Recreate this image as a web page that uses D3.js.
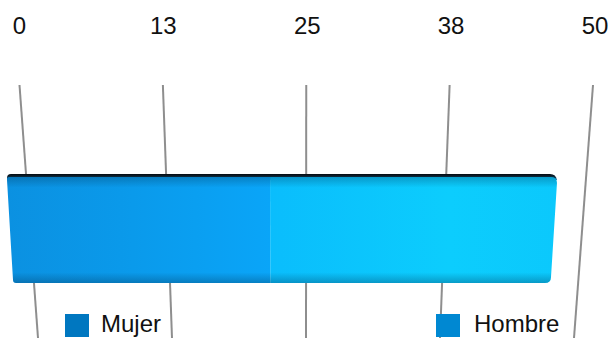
<!DOCTYPE html>
<html>
<head>
<meta charset="utf-8">
<script src="https://cdn.jsdelivr.net/npm/d3@7/dist/d3.min.js"></script>
<style>
  html, body { margin: 0; padding: 0; background: #fff; }
  svg { display: block; font-family: "Liberation Sans", Arial, sans-serif; }
</style>
</head>
<body>
<svg id="chart" width="608" height="338"></svg>
<script>
// Chart data
const categories = ["Total"];
const series = ["Mujer", "Hombre"];
const values = [22, 24];
const tickValues = [0, 12.5, 25, 37.5, 50];
const tickLabels = ["0", "13", "25", "38", "50"];
const legendColors = ["#0077c0", "#0088d2"];

const svg = d3.select("#chart");
const W = 608, H = 338;
const domain = [0, 50];

// Perspective: the grid plane is narrower at its bottom edge than at its top edge,
// the bar sits in front of it and is magnified a little.
const gridTopY = 85, gridBotY = H;
const gridTop = d3.scaleLinear().domain(domain).range([19.5, 593]);
const gridBot = d3.scaleLinear().domain(domain).range([38, 574]);
const labelX = d3.scaleLinear().domain(domain).range([19.5, 595]);

const barTopY = 177, barBotY = 283;
const barTop = d3.scaleLinear().domain(domain).range([7, 604.8]);
const barBot = d3.scaleLinear().domain(domain).range([13, 597.8]);

const defs = svg.append("defs");

function hGrad(id, stops) {
  const g = defs.append("linearGradient").attr("id", id)
    .attr("x1", "0").attr("y1", "0").attr("x2", "1").attr("y2", "0");
  stops.forEach(s => g.append("stop").attr("offset", s[0]).attr("stop-color", s[1]));
}
function vGrad(id, stops) {
  const g = defs.append("linearGradient").attr("id", id)
    .attr("x1", "0").attr("y1", "0").attr("x2", "0").attr("y2", "1");
  stops.forEach(s => {
    const st = g.append("stop").attr("offset", s[0]).attr("stop-color", s[1]);
    if (s[2] !== undefined) st.attr("stop-opacity", s[2]);
  });
}
hGrad("fill-Mujer", [[0, "#0b90e0"], [0.5, "#0a9aeb"], [1, "#0aa5f8"]]);
hGrad("fill-Hombre", [[0, "#0abdfc"], [0.6, "#0ccdfd"], [1, "#0bc8fc"]]);
vGrad("shade", [[0, "#00304f", 0.3], [0.1, "#003050", 0.0], [0.9, "#002a48", 0.0], [1, "#002a48", 0.3]]);
vGrad("topface", [[0, "#05090d"], [0.5, "#0b2b40"], [1, "#0b6fa8"]]);

// Grid lines
svg.append("g").selectAll("line")
  .data(tickValues)
  .join("line")
  .attr("x1", d => gridTop(d)).attr("y1", gridTopY)
  .attr("x2", d => gridBot(d)).attr("y2", gridBotY)
  .attr("stroke", "#8e8e8e").attr("stroke-width", 2);

// Tick labels
svg.append("g").selectAll("text")
  .data(tickValues)
  .join("text")
  .attr("x", d => labelX(d)).attr("y", 34)
  .attr("text-anchor", "middle")
  .attr("font-size", 24)
  .attr("fill", "#111")
  .text((d, i) => tickLabels[i]);

// Stacked segments
let acc = 0;
const segs = values.map((v, i) => {
  const s = { name: series[i], x0: acc, x1: acc + v };
  acc += v;
  return s;
});
const total = acc;

// Outline of the whole bar with rounded ends, used as clip
const L0 = barTop(0), L1 = barBot(0), R0 = barTop(total), R1 = barBot(total);
const r = 6;
const outline = d3.path();
outline.moveTo(L0 + 3, barTopY);
outline.lineTo(R0 - r, barTopY);
outline.quadraticCurveTo(R0, barTopY, R0, barTopY + r);
outline.lineTo(R1, barBotY - r);
outline.quadraticCurveTo(R1, barBotY, R1 - r, barBotY);
outline.lineTo(L1 + 3, barBotY);
outline.quadraticCurveTo(L1, barBotY, L1, barBotY - 3);
outline.lineTo(L0, barTopY + 3);
outline.quadraticCurveTo(L0, barTopY, L0 + 3, barTopY);
outline.closePath();

defs.append("clipPath").attr("id", "barclip")
  .append("path").attr("d", outline.toString());

const bar = svg.append("g").datum(categories[0]);

// Dark top face
const tf = d3.path();
const tY = barTopY - 3;
tf.moveTo(barTop(0), barTopY + 3);
tf.lineTo(barTop(0), tY + 4);
tf.quadraticCurveTo(barTop(0), tY, barTop(0) + 4, tY);
tf.lineTo(barTop(total) - 7, tY);
tf.quadraticCurveTo(barTop(total) - 1, tY, barTop(total), tY + 6);
tf.lineTo(barTop(total), barTopY + 3);
tf.closePath();
bar.append("path").attr("d", tf.toString()).attr("fill", "url(#topface)");

const front = bar.append("g").attr("clip-path", "url(#barclip)");
front.selectAll("path.seg")
  .data(segs)
  .join("path")
  .attr("class", "seg")
  .attr("d", d => {
    const p = d3.path();
    const a = d.x0 === 0 ? -1 : d.x0;
    const b = d.x1 === total ? total + 1 : d.x1;
    p.moveTo(barTop(a), barTopY);
    p.lineTo(barTop(b), barTopY);
    p.lineTo(barBot(b), barBotY);
    p.lineTo(barBot(a), barBotY);
    p.closePath();
    return p.toString();
  })
  .attr("fill", d => `url(#fill-${d.name})`);

front.append("path").attr("d", outline.toString()).attr("fill", "url(#shade)");

// Legend
const legend = svg.append("g");
const legendItems = [{ x: 65, tx: 101 }, { x: 436, tx: 474 }];
series.forEach((s, i) => {
  legend.append("rect")
    .attr("x", legendItems[i].x).attr("y", 314)
    .attr("width", 24).attr("height", 23)
    .attr("fill", legendColors[i]);
  legend.append("text")
    .attr("x", legendItems[i].tx).attr("y", 332)
    .attr("font-size", 24).attr("fill", "#111")
    .text(s);
});
</script>
</body>
</html>
